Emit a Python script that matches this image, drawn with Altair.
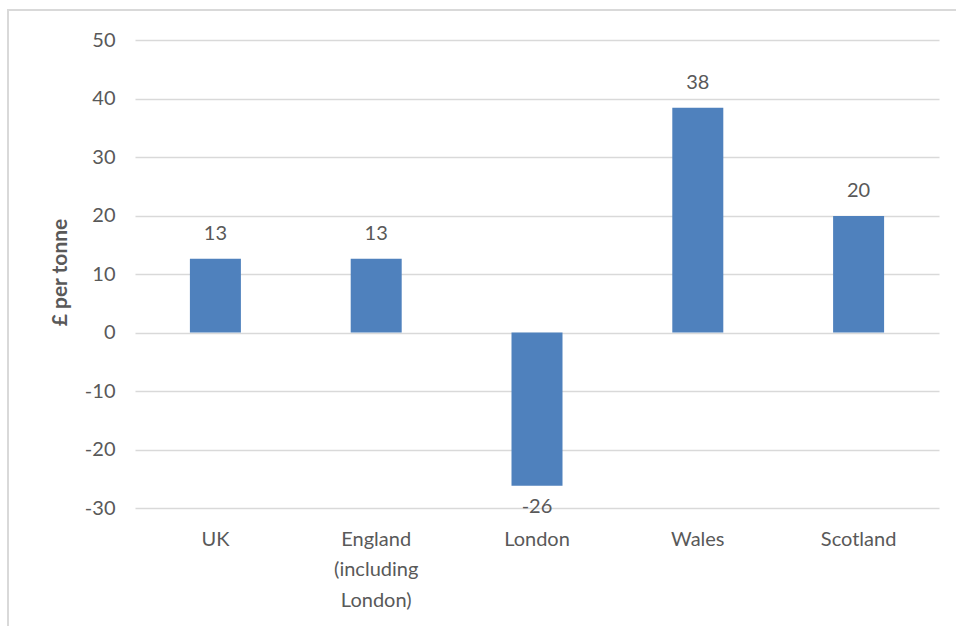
import altair as alt
import pandas as pd

regions = ["UK", "England (including London)", "London", "Wales", "Scotland"]
values = [12.6, 12.6, -26.2, 38.4, 19.9]
labels = ["13", "13", "-26", "38", "20"]
y_ticks = [-30, -20, -10, 0, 10, 20, 30, 40, 50]

df = pd.DataFrame({"region": regions, "value": values, "label": labels})

FONT = "Lato"
GREY = "#595959"
BLUE = "#4F81BD"
FS = 20

label_expr = ("datum.value == 'England (including London)' ? ['England', '(including', 'London)'] : datum.value")

x = alt.X("region:N", sort=regions, title=None,
          scale=alt.Scale(paddingInner=0.68, paddingOuter=0.34),
          axis=alt.Axis(labelAngle=0, domain=False, ticks=False, labelPadding=21,
                        labelExpr=label_expr, labelLineHeight=30.5,
                        labelFont=FONT, labelFontSize=FS, labelColor=GREY))
y = alt.Y("value:Q", title="£ per tonne",
          scale=alt.Scale(domain=[-30, 50], nice=False),
          axis=alt.Axis(values=y_ticks, domain=False, ticks=False, labelExpr="'' + datum.value",
                        labelPadding=20, labelFont=FONT, labelFontSize=FS, labelColor=GREY,
                        gridColor="#d9d9d9", gridWidth=1.5,
                        titleFont=FONT, titleFontSize=21, titleFontWeight="bold", titleColor=GREY,
                        titleX=-75, titleY=232, titleAngle=-90, titleAlign="center", titleBaseline="middle"))

base = alt.Chart(df)
bars = base.mark_bar(color=BLUE, size=51).encode(x=x, y=y)
pos_text = base.transform_filter("datum.value >= 0").mark_text(
    baseline="bottom", dy=-15, font=FONT, fontSize=FS, color=GREY
).encode(x=alt.X("region:N", sort=regions), y="value:Q", text="label:N")
neg_text = base.transform_filter("datum.value < 0").mark_text(
    baseline="top", dy=11, font=FONT, fontSize=FS, color=GREY
).encode(x=alt.X("region:N", sort=regions), y="value:Q", text="label:N")

frame = alt.Chart(pd.DataFrame({"a": [0]})).mark_rect(
    fill=None, stroke="#d9d9d9", strokeWidth=2, clip=False
).encode(x=alt.value(-127), x2=alt.value(825), y=alt.value(-30), y2=alt.value(590))

chart = alt.layer(frame, bars, pos_text, neg_text).properties(
    width=804, height=468,
    autosize=alt.AutoSizeParams(type="none"),
    padding={"left": 135, "top": 40, "right": 17, "bottom": 118},
    background="white",
).configure_view(stroke=None)

chart.save("out.html", embed_options={"renderer": "svg", "actions": False})
